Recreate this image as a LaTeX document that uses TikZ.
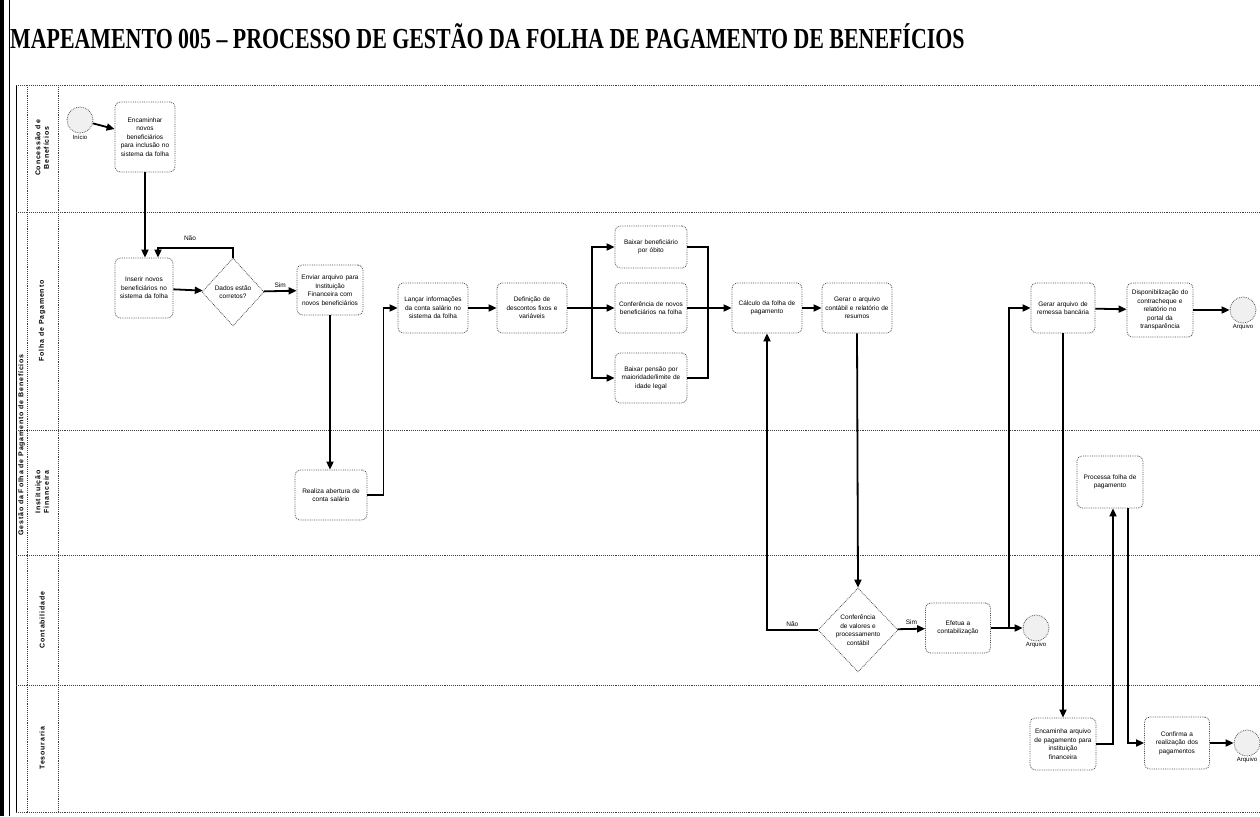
\documentclass[tikz,border=0pt]{standalone}
\usepackage{fontspec}
\usepackage{graphicx}
\setmainfont{Liberation Serif}
\newfontfamily\boxfont{Liberation Sans}
\newfontfamily\lanefont[LetterSpace=12]{Liberation Sans}
\usetikzlibrary{shapes.geometric,arrows.meta}
\tikzset{
  task/.style={draw=black!70, densely dotted, line width=0.8pt, rounded corners=5pt,
    text width=#1, minimum height=50pt, inner sep=3pt, align=center,
    font=\boxfont\fontsize{6.5}{8.5}\selectfont},
  task/.default=58pt,
  gate/.style={diamond, draw=black!70, densely dotted, line width=0.8pt, inner sep=0pt,
    align=center, font=\boxfont\fontsize{6.5}{8.5}\selectfont},
  event/.style={circle, draw=black!65, densely dotted, line width=0.8pt, fill=black!6,
    minimum size=26pt, inner sep=0pt},
  evlabel/.style={font=\boxfont\fontsize{6}{7}\selectfont, inner sep=1pt},
  flowlabel/.style={font=\boxfont\fontsize{6.5}{7}\selectfont, inner sep=1pt},
  lanetxt/.style={rotate=90, align=center, font=\lanefont\bfseries\fontsize{7}{8.5}\selectfont},
  laneline/.style={draw=black!75, densely dotted, line width=0.9pt},
  flow/.style={line width=1.8pt, -{Triangle[length=8pt,width=7pt]}},
  plain/.style={line width=1.8pt}
}
\begin{document}
\begin{tikzpicture}[x=1pt,y=-1pt]
  \useasboundingbox (0,0) rectangle (1260,816);
  % frame and title
  \fill (0,0) rectangle (4,816);
  \draw[line width=0.8pt] (9,0) -- (9,816);
  \node[anchor=west, inner sep=0pt, font=\bfseries\fontsize{29}{29}\selectfont] (titulo) at (10,36)
    {\scalebox{0.755}[1]{MAPEAMENTO 005 -- PROCESSO DE GESTÃO DA FOLHA DE PAGAMENTO DE BENEFÍCIOS}};
  % pool and lanes
  \draw[line width=0.8pt] (16,85) -- (16,812);
  \foreach \y in {85,212,430,555,685,812}
    \draw[laneline] (16,\y) -- (1260,\y);
  \draw[laneline] (27,85) -- (27,812);
  \draw[laneline] (58,85) -- (58,812);
  \node[lanetxt] (pool) at (21.5,445) {Gestão da Folha de Pagamento de Benefícios};
  \node[lanetxt] (laneconc) at (42,148) {Concessão de\\Benefícios};
  \node[lanetxt] (lanefolha) at (42,321) {Folha de Pagamento};
  \node[lanetxt] (laneinst) at (42,492) {Instituição\\Financeira};
  \node[lanetxt] (lanecont) at (42,620) {Contabilidade};
  \node[lanetxt] (lanetes) at (42,748) {Tesouraria};

  % Concessao de Beneficios
  \node[event] (inicio) at (80,120) {};
  \node[evlabel, below=0pt] at (inicio.south) {Início};
  \node[task=54pt, minimum height=70pt] (encaminhar) at (145,137)
    {Encaminhar\\novos\\beneficiários\\para inclusão no\\sistema da folha};

  % Folha de Pagamento
  \node[task=52pt, minimum height=60pt] (inserir) at (144,288)
    {Inserir novos\\beneficiários no\\sistema da folha};
  \node[gate, minimum width=62pt, minimum height=68pt] (dados) at (233,292) {Dados estão\\corretos?};
  \node[task=60pt] (enviar) at (330,290)
    {Enviar arquivo para\\Instituição\\Financeira com\\novos beneficiários};
  \node[task=64pt] (lancar) at (433,308)
    {Lançar informações\\da conta salário no\\sistema da folha};
  \node[task=64pt] (definicao) at (532,308) {Definição de\\descontos fixos e\\variáveis};
  \node[task=66pt, minimum height=42pt] (baixarobito) at (651,247) {Baixar beneficiário\\por óbito};
  \node[task=66pt] (conferencia) at (651,308) {Conferência de novos\\beneficiários na folha};
  \node[task=66pt] (baixarpensao) at (651,378)
    {Baixar pensão por\\maioridade/limite de\\idade legal};
  \node[task=64pt] (calculo) at (767,308) {Cálculo da folha de\\pagamento};
  \node[task=64pt] (gerarcontabil) at (857,308)
    {Gerar o arquivo\\contábil e relatório de\\resumos};
  \node[task=58pt] (remessa) at (1063,308) {Gerar arquivo de\\remessa bancária};
  \node[task=60pt, minimum height=54pt] (disponib) at (1160,310)
    {Disponibilização do\\contracheque e\\relatório no portal da\\transparência};
  \node[event] (arquivo1) at (1243,310) {};
  \node[evlabel, below=0pt] at (arquivo1.south) {Arquivo};

  % Instituicao Financeira
  \node[task=66pt] (realiza) at (331,495) {Realiza abertura de\\conta salário};
  \node[task=60pt, minimum height=52pt] (processa) at (1110,482) {Processa folha de\\pagamento};

  % Contabilidade
  \node[gate, minimum width=80pt, minimum height=84pt] (confvalores) at (858,630)
    {Conferência\\de valores e\\processamento\\contábil};
  \node[task=59pt] (efetua) at (958,628) {Efetua a\\contabilização};
  \node[event] (arquivo2) at (1036,628) {};
  \node[evlabel, below=0pt] at (arquivo2.south) {Arquivo};

  % Tesouraria
  \node[task=60pt, minimum height=52pt] (encaminha) at (1063,744)
    {Encaminha arquivo\\de pagamento para\\instituição\\financeira};
  \node[task=59pt, minimum height=52pt] (confirma) at (1177,743)
    {Confirma a\\realização dos\\pagamentos};
  \node[event] (arquivo3) at (1247,743) {};
  \node[evlabel, below=0pt] at (arquivo3.south) {Arquivo};

  % helper points
  \coordinate (naoloop) at (158,248);
  \coordinate (fork) at (592,308);
  \coordinate (join) at (708,308);
  \coordinate (ramo) at (1009,628);

  % connectors
  \begin{scope}[flow]
    \draw (inicio) -- (encaminhar);
    \draw (encaminhar.south) -- (encaminhar.south |- inserir.north);
    \draw (inserir) -- (dados);
    \draw (dados.north) |- (naoloop) -- (naoloop |- inserir.north);
    \draw (dados) -- node[flowlabel, above=2pt] {Sim} (enviar);
    \draw (enviar.south) -- (enviar.south |- realiza.north);
    \draw (realiza.east) -- ++(16,0) |- (lancar.west);
    \draw (lancar) -- (definicao);
    \draw (fork) |- (baixarobito.west);
    \draw (fork) -- (conferencia.west);
    \draw (fork) |- (baixarpensao.west);
    \draw (conferencia) -- (calculo);
    \draw (calculo) -- (gerarcontabil);
    \draw (gerarcontabil.south) -- (confvalores.north);
    \draw (confvalores.west) -| node[flowlabel, pos=0.25, above=2pt] {Não} (calculo.south);
    \draw (confvalores) -- node[flowlabel, above=2pt] {Sim} (efetua);
    \draw (efetua) -- (arquivo2);
    \draw (ramo) |- (remessa.west);
    \draw (remessa) -- (disponib);
    \draw (disponib) -- (arquivo1);
    \draw (remessa.south) -- (remessa.south |- encaminha.north);
    \draw (encaminha.east) -| ([xshift=3pt]processa.south);
    \draw ([xshift=18pt]processa.south) |- (confirma.west);
    \draw (confirma) -- (arquivo3);
  \end{scope}
  \begin{scope}[plain]
    \draw (definicao) -- (fork);
    \draw (baixarobito.east) -| (join);
    \draw (baixarpensao.east) -| (join);
  \end{scope}
  \node[flowlabel] at (190,238) {Não};
\end{tikzpicture}
\end{document}
